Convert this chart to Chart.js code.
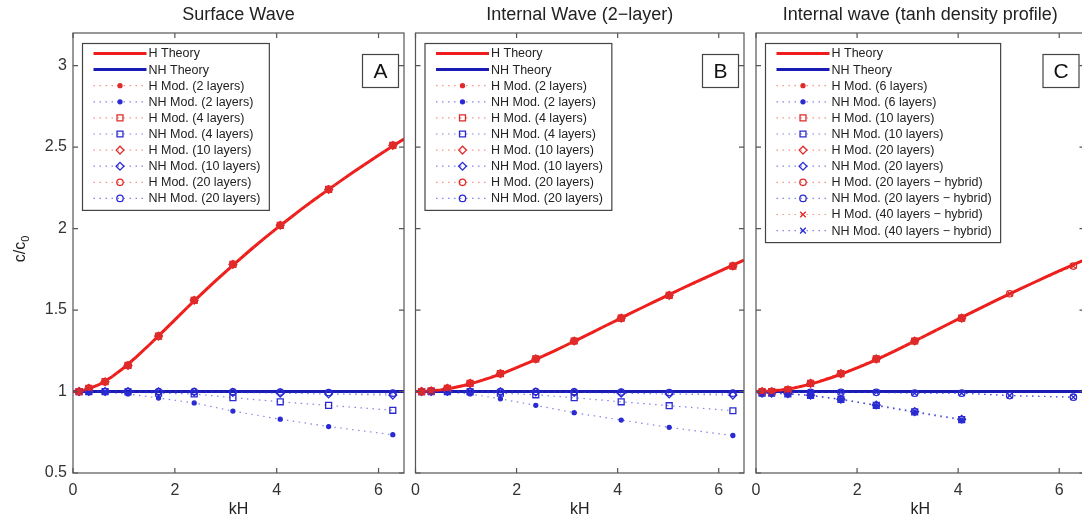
<!DOCTYPE html>
<html><head><meta charset="utf-8">
<script src="https://cdn.jsdelivr.net/npm/chart.js@4.4.0/dist/chart.umd.min.js"></script>
<style>
html,body{margin:0;padding:0;background:#fff;overflow:hidden;width:1082px;height:525px;}
#wrap{position:relative;width:1082px;height:525px;overflow:hidden;}
canvas{position:absolute;top:0;}
</style></head><body>
<div id="wrap">
<canvas id="c1" width="410" height="525" style="left:0px"></canvas>
<canvas id="c2" width="340" height="525" style="left:410px"></canvas>
<canvas id="c3" width="340" height="525" style="left:750px"></canvas>
</div>
<script>
// ---------- data ----------
const panelTitles = ['Surface Wave', 'Internal Wave (2\u2212layer)', 'Internal wave (tanh density profile)'];
const panelLetters = ['A', 'B', 'C'];
const xTicks = [0, 2, 4, 6];
const xTickLabels = ['0', '2', '4', '6'];
const yTicks = [0.5, 1, 1.5, 2, 2.5, 3];
const yTickLabels = ['0.5', '1', '1.5', '2', '2.5', '3'];

// theory curves
const kHTheory = [0,0.25,0.5,0.75,1,1.25,1.5,1.75,2,2.25,2.5,2.75,3,3.25,3.5,3.75,4,4.25,4.5,4.75,5,5.25,5.5,5.75,6,6.25,6.5];
const surfHTheory = [1.000,1.010,1.040,1.087,1.146,1.214,1.287,1.363,1.440,1.517,1.592,1.665,1.736,1.805,1.873,1.938,2.001,2.062,2.122,2.180,2.236,2.291,2.345,2.398,2.450,2.500,2.550];
const twoLayerHTheory = [1.000,1.003,1.010,1.023,1.040,1.062,1.087,1.115,1.146,1.179,1.214,1.250,1.287,1.325,1.363,1.402,1.440,1.479,1.517,1.555,1.592,1.629,1.665,1.701,1.736,1.771,1.806];
const tanhHTheory = [1.000,1.003,1.010,1.022,1.039,1.061,1.086,1.114,1.145,1.178,1.213,1.250,1.288,1.327,1.366,1.405,1.444,1.483,1.521,1.559,1.596,1.633,1.669,1.705,1.740,1.774,1.808];
const kHFlat = [0, 6.5];
const nhTheory = [1, 1];

// model points
const kH = [0.12, 0.31, 0.63, 1.08, 1.68, 2.38, 3.14, 4.07, 5.02, 6.28];
const kHShort = [0.12, 0.31, 0.63, 1.08, 1.68, 2.38, 3.14, 4.07];

// panel A: surface wave
const surfH2  = [1.00, 1.02, 1.06, 1.16, 1.34, 1.56, 1.78, 2.02, 2.24, 2.51];
const surfH4  = [1.00, 1.02, 1.06, 1.16, 1.34, 1.56, 1.78, 2.02, 2.24, 2.51];
const surfH10 = [1.00, 1.02, 1.06, 1.16, 1.34, 1.56, 1.78, 2.02, 2.24, 2.51];
const surfH20 = [1.00, 1.02, 1.06, 1.16, 1.34, 1.56, 1.78, 2.02, 2.24, 2.51];
const surfNH2  = [1.00, 1.00, 0.995, 0.985, 0.96, 0.93, 0.88, 0.83, 0.785, 0.735];
const surfNH4  = [1.00, 1.00, 1.00, 0.998, 0.99, 0.985, 0.962, 0.937, 0.915, 0.885];
const surfNH10 = [1.00, 1.00, 1.00, 1.00, 0.998, 0.997, 0.995, 0.99, 0.985, 0.978];
const surfNH20 = [1.00, 1.00, 1.00, 1.00, 1.00, 1.00, 0.998, 0.997, 0.994, 0.99];

// panel B: two-layer internal wave
const twoH2  = [1.00, 1.004, 1.02, 1.05, 1.11, 1.20, 1.31, 1.45, 1.59, 1.77];
const twoH4  = [1.00, 1.004, 1.02, 1.05, 1.11, 1.20, 1.31, 1.45, 1.59, 1.77];
const twoH10 = [1.00, 1.004, 1.02, 1.05, 1.11, 1.20, 1.31, 1.45, 1.59, 1.77];
const twoH20 = [1.00, 1.004, 1.02, 1.05, 1.11, 1.20, 1.31, 1.45, 1.59, 1.77];
const twoNH2  = [1.00, 1.00, 0.995, 0.985, 0.955, 0.915, 0.87, 0.825, 0.78, 0.73];
const twoNH4  = [1.00, 1.00, 1.00, 0.998, 0.99, 0.98, 0.962, 0.937, 0.913, 0.882];
const twoNH10 = [1.00, 1.00, 1.00, 1.00, 0.998, 0.997, 0.995, 0.99, 0.985, 0.978];
const twoNH20 = [1.00, 1.00, 1.00, 1.00, 1.00, 1.00, 0.998, 0.997, 0.994, 0.99];

// panel C: tanh density profile
const tanhH6   = [1.00, 1.00, 1.01, 1.05, 1.11, 1.20, 1.31, 1.45];
const tanhNH6  = [0.99, 0.99, 0.985, 0.975, 0.95, 0.913, 0.872, 0.825];
const tanhH10  = [1.00, 1.00, 1.01, 1.05, 1.11, 1.20, 1.31, 1.45];
const tanhNH10 = [0.99, 0.99, 0.986, 0.976, 0.952, 0.915, 0.875, 0.828];
const tanhH20  = [1.00, 1.00, 1.01, 1.05, 1.11, 1.20, 1.31, 1.45];
const tanhNH20 = [0.99, 0.99, 0.986, 0.977, 0.953, 0.917, 0.877, 0.83];
const tanhH20h  = [1.00, 1.00, 1.01, 1.05, 1.11, 1.20, 1.31, 1.45, 1.60, 1.77];
const tanhNH20h = [0.995, 0.995, 0.995, 0.995, 0.995, 0.995, 0.99, 0.99, 0.975, 0.965];
const tanhH40h  = [1.00, 1.00, 1.01, 1.05, 1.11, 1.20, 1.31, 1.45, 1.60, 1.77];
const tanhNH40h = [0.995, 0.995, 0.995, 0.995, 0.995, 0.995, 0.99, 0.99, 0.975, 0.965];

// ---------- styling ----------
const FONT = '"Liberation Sans", Arial, Helvetica, sans-serif';
const RED = '#ee1c1c', BLUE = '#1a1ab4';
const RED_M = '#e02a2a', BLUE_M = '#2a2ad2';
const RED_DOT = 'rgba(235,60,40,0.55)', BLUE_DOT = 'rgba(50,50,210,0.6)';
const MARK = {
  dot:    {pointStyle: 'circle',   pointRadius: 2.0, fill: true},
  square: {pointStyle: 'rect',     pointRadius: 4.2, fill: false},
  diamond:{pointStyle: 'rectRot',  pointRadius: 3.9, fill: false},
  circle: {pointStyle: 'circle',   pointRadius: 3.2, fill: false},
  cross:  {pointStyle: 'crossRot', pointRadius: 4.0, fill: false}
};

function pts(xs, ys) { return ys.map((v, i) => ({x: xs[i], y: v})); }
function theory(label, xs, ys, color, ord) {
  return {label, data: pts(xs, ys), showLine: true, borderColor: color, backgroundColor: color,
          borderWidth: 3, pointRadius: 0, order: ord};
}
function model(label, xs, ys, isRed, mk) {
  const m = MARK[mk];
  const c = isRed ? RED_M : BLUE_M;
  return {label, data: pts(xs, ys), showLine: true,
          borderColor: isRed ? RED_DOT : BLUE_DOT, borderWidth: 1.2, borderDash: [1.5, 4.5],
          pointStyle: m.pointStyle, pointRadius: m.pointRadius, pointHoverRadius: m.pointRadius,
          pointBorderColor: c, pointBackgroundColor: m.fill ? c : 'rgba(255,255,255,0)',
          pointBorderWidth: 1.3, order: 1};
}

const panels = [
  [
    theory('H Theory', kHTheory, surfHTheory, RED, 2),
    theory('NH Theory', kHFlat, nhTheory, BLUE, 3),
    model('H Mod. (2 layers)', kH, surfH2, true, 'dot'),
    model('NH Mod. (2 layers)', kH, surfNH2, false, 'dot'),
    model('H Mod. (4 layers)', kH, surfH4, true, 'square'),
    model('NH Mod. (4 layers)', kH, surfNH4, false, 'square'),
    model('H Mod. (10 layers)', kH, surfH10, true, 'diamond'),
    model('NH Mod. (10 layers)', kH, surfNH10, false, 'diamond'),
    model('H Mod. (20 layers)', kH, surfH20, true, 'circle'),
    model('NH Mod. (20 layers)', kH, surfNH20, false, 'circle')
  ],
  [
    theory('H Theory', kHTheory, twoLayerHTheory, RED, 2),
    theory('NH Theory', kHFlat, nhTheory, BLUE, 3),
    model('H Mod. (2 layers)', kH, twoH2, true, 'dot'),
    model('NH Mod. (2 layers)', kH, twoNH2, false, 'dot'),
    model('H Mod. (4 layers)', kH, twoH4, true, 'square'),
    model('NH Mod. (4 layers)', kH, twoNH4, false, 'square'),
    model('H Mod. (10 layers)', kH, twoH10, true, 'diamond'),
    model('NH Mod. (10 layers)', kH, twoNH10, false, 'diamond'),
    model('H Mod. (20 layers)', kH, twoH20, true, 'circle'),
    model('NH Mod. (20 layers)', kH, twoNH20, false, 'circle')
  ],
  [
    theory('H Theory', kHTheory, tanhHTheory, RED, 2),
    theory('NH Theory', kHFlat, nhTheory, BLUE, 3),
    model('H Mod. (6 layers)', kHShort, tanhH6, true, 'dot'),
    model('NH Mod. (6 layers)', kHShort, tanhNH6, false, 'dot'),
    model('H Mod. (10 layers)', kHShort, tanhH10, true, 'square'),
    model('NH Mod. (10 layers)', kHShort, tanhNH10, false, 'square'),
    model('H Mod. (20 layers)', kHShort, tanhH20, true, 'diamond'),
    model('NH Mod. (20 layers)', kHShort, tanhNH20, false, 'diamond'),
    model('H Mod. (20 layers \u2212 hybrid)', kH, tanhH20h, true, 'circle'),
    model('NH Mod. (20 layers \u2212 hybrid)', kH, tanhNH20h, false, 'circle'),
    model('H Mod. (40 layers \u2212 hybrid)', kH, tanhH40h, true, 'cross'),
    model('NH Mod. (40 layers \u2212 hybrid)', kH, tanhNH40h, false, 'cross')
  ]
];

// ---------- plugins ----------
const framePlugin = {
  id: 'frame',
  afterDatasetsDraw(chart) {
    const {ctx, chartArea: a, scales: {x, y}} = chart;
    ctx.save();
    ctx.strokeStyle = '#555';
    ctx.lineWidth = 1.2;
    ctx.strokeRect(a.left, a.top, a.right - a.left, a.bottom - a.top);
    ctx.beginPath();
    x.ticks.forEach(t => {
      const px = x.getPixelForValue(t.value);
      ctx.moveTo(px, a.bottom); ctx.lineTo(px, a.bottom - 5);
      ctx.moveTo(px, a.top); ctx.lineTo(px, a.top + 5);
    });
    y.ticks.forEach(t => {
      const py = y.getPixelForValue(t.value);
      ctx.moveTo(a.left, py); ctx.lineTo(a.left + 5, py);
      ctx.moveTo(a.right, py); ctx.lineTo(a.right - 5, py);
    });
    ctx.stroke();
    ctx.restore();
  }
};

const decoPlugin = {
  id: 'deco',
  afterDraw(chart, args, opts) {
    const {ctx, chartArea: a} = chart;
    const ds = chart.data.datasets;
    ctx.save();
    // legend box
    ctx.font = '12.5px ' + FONT;
    let maxW = 0;
    ds.forEach(d => { maxW = Math.max(maxW, ctx.measureText(d.label).width); });
    const bx = a.left + 9.5, by = a.top + 10.5;
    const rowH = 16.1;
    const bw = 66 + maxW + 9, bh = 22 + (ds.length - 1) * rowH;
    ctx.fillStyle = '#fff';
    ctx.fillRect(bx, by, bw, bh);
    ctx.strokeStyle = '#444';
    ctx.lineWidth = 1.2;
    ctx.strokeRect(bx, by, bw, bh);
    ds.forEach((d, i) => {
      const yy = by + 10 + i * rowH;
      const x0 = bx + 11, x1 = bx + 64;
      ctx.save();
      ctx.strokeStyle = d.borderColor;
      ctx.lineWidth = d.borderWidth;
      ctx.setLineDash(d.borderDash || []);
      ctx.beginPath(); ctx.moveTo(x0, yy); ctx.lineTo(x1, yy); ctx.stroke();
      ctx.restore();
      if (d.pointRadius > 0 && Chart.helpers && Chart.helpers.drawPoint) {
        ctx.save();
        ctx.strokeStyle = d.pointBorderColor;
        ctx.fillStyle = d.pointBackgroundColor;
        ctx.lineWidth = d.pointBorderWidth;
        Chart.helpers.drawPoint(ctx, {pointStyle: d.pointStyle, radius: d.pointRadius,
          borderWidth: d.pointBorderWidth, rotation: 0}, (x0 + x1) / 2, yy);
        ctx.restore();
      }
      ctx.fillStyle = '#222';
      ctx.textBaseline = 'middle';
      ctx.textAlign = 'left';
      ctx.fillText(d.label, bx + 66, yy + 0.5);
    });
    // letter box
    const lw = 36, lh = 33;
    const lx = a.right - 5.5 - lw, ly = a.top + 21.5;
    ctx.fillStyle = '#fff';
    ctx.fillRect(lx, ly, lw, lh);
    ctx.strokeStyle = '#444';
    ctx.lineWidth = 1.2;
    ctx.strokeRect(lx, ly, lw, lh);
    ctx.fillStyle = '#111';
    ctx.font = '21px ' + FONT;
    ctx.textAlign = 'center';
    ctx.textBaseline = 'middle';
    ctx.fillText(opts.letter, lx + lw / 2, ly + lh / 2 + 1);
    // title
    const cx = (a.left + a.right) / 2;
    ctx.font = '18px ' + FONT;
    ctx.fillStyle = '#222';
    ctx.fillText(opts.title, cx, 15);
    // x label
    ctx.font = '16px ' + FONT;
    ctx.fillText('kH', cx, 510);
    // y label
    if (opts.ylabel) {
      ctx.save();
      ctx.translate(20, (a.top + a.bottom) / 2 - 4);
      ctx.rotate(-Math.PI / 2);
      ctx.font = '16px ' + FONT;
      const w1 = ctx.measureText('c/c').width;
      ctx.font = '11px ' + FONT;
      const w2 = ctx.measureText('0').width;
      const start = -(w1 + w2) / 2;
      ctx.textAlign = 'left';
      ctx.textBaseline = 'alphabetic';
      ctx.font = '16px ' + FONT;
      ctx.fillText('c/c', start, 5);
      ctx.font = '11px ' + FONT;
      ctx.fillText('0', start + w1, 9);
      ctx.restore();
    }
    ctx.restore();
  }
};

Chart.defaults.font.family = FONT;
const leftW = [73, 4, 6];
const rightPad = [6, 6, 4];
['c1', 'c2', 'c3'].forEach((id, p) => {
  new Chart(document.getElementById(id), {
    type: 'scatter',
    data: {datasets: panels[p]},
    options: {
      responsive: false,
      animation: false,
      devicePixelRatio: 1,
      layout: {padding: {left: 0, right: rightPad[p], top: 33, bottom: 0}},
      plugins: {legend: {display: false}, tooltip: {enabled: false},
                deco: {letter: panelLetters[p], title: panelTitles[p], ylabel: p === 0}},
      scales: {
        x: {
          type: 'linear', min: 0, max: 6.5,
          afterBuildTicks: s => { s.ticks = xTicks.map(v => ({value: v})); },
          afterFit: s => { s.height = 52; s.paddingLeft = 0; s.paddingRight = 0; },
          grid: {display: false, drawTicks: false},
          border: {display: false},
          ticks: {color: '#333', font: {size: 16}, padding: 8, maxRotation: 0, autoSkip: false,
                  callback: (v, i) => xTickLabels[i]}
        },
        y: {
          type: 'linear', min: 0.5, max: 3.2,
          afterBuildTicks: s => { s.ticks = yTicks.map(v => ({value: v})); },
          afterFit: s => { s.width = leftW[p]; s.paddingTop = 0; s.paddingBottom = 0; },
          grid: {display: false, drawTicks: false},
          border: {display: false},
          ticks: {display: p === 0, color: '#333', font: {size: 16}, padding: 6, autoSkip: false,
                  callback: (v, i) => yTickLabels[i]}
        }
      }
    },
    plugins: [framePlugin, decoPlugin]
  });
});
</script>
</body></html>
